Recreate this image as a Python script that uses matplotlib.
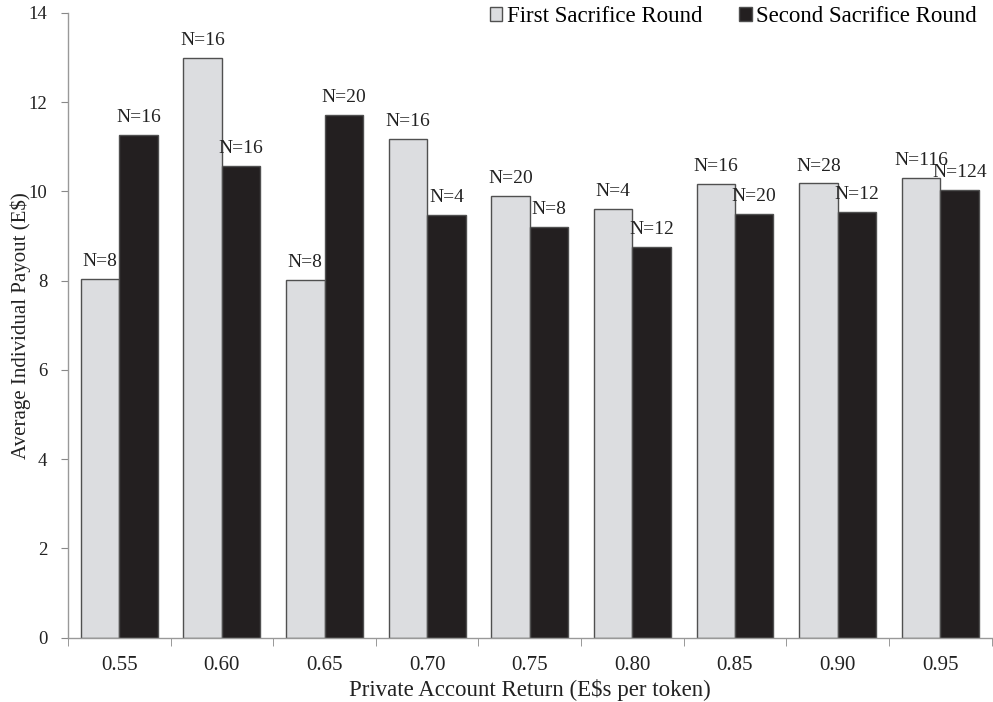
import matplotlib
matplotlib.use("Agg")
import matplotlib.pyplot as plt
import numpy as np
from matplotlib.patches import Patch

categories = ["0.55", "0.60", "0.65", "0.70", "0.75", "0.80", "0.85", "0.90", "0.95"]
first_round = [8.04, 13.0, 8.02, 11.17, 9.89, 9.61, 10.17, 10.18, 10.31]
second_round = [11.26, 10.58, 11.72, 9.48, 9.21, 8.75, 9.49, 9.55, 10.04]
first_n = [8, 16, 8, 16, 20, 4, 16, 28, 116]
second_n = [16, 16, 20, 4, 8, 12, 20, 12, 124]

plt.rcParams['font.family'] = ['Liberation Serif', 'DejaVu Serif']

fig = plt.figure(figsize=(9.93, 7.02), dpi=100)
ax = fig.add_axes([0.0685, 0.0916, 0.93, 0.8899])

x = np.arange(len(categories))
w = 0.375
light = '#dcdde0'
dark = '#231f20'
edge = '#505050'
txt = '#222222'

ax.bar(x - w / 2, first_round, w, color=light, edgecolor=edge, linewidth=1.0)
ax.bar(x + w / 2, second_round, w, color=dark, edgecolor=edge, linewidth=1.0)

for xi, v, n in zip(x - w / 2, first_round, first_n):
    ax.text(xi, v + 0.2, f"N={n}", ha='center', va='bottom', fontsize=14, color=txt)
for xi, v, n in zip(x + w / 2, second_round, second_n):
    ax.text(xi, v + 0.2, f"N={n}", ha='center', va='bottom', fontsize=14, color=txt)

ax.set_xlim(-0.5, len(categories) - 0.5)
ax.set_ylim(0, 14)
ax.set_yticks(np.arange(0, 15, 2))
ax.set_xticks(x)
ax.set_xticklabels(categories)
ax.set_xticks(np.arange(-0.5, len(categories)), minor=True)
ax.tick_params(axis='x', which='major', length=0, pad=13, labelsize=15, labelcolor=txt)
ax.tick_params(axis='x', which='minor', length=6, color='#888888', direction='out')
ax.tick_params(axis='y', length=5, color='#888888', labelsize=13.5, pad=10, labelcolor=txt)

for s in ['top', 'right']:
    ax.spines[s].set_visible(False)
for s in ['left', 'bottom']:
    ax.spines[s].set_color('#999999')
    ax.spines[s].set_linewidth(1.0)

ax.set_xlabel("Private Account Return (E$s per token)", fontsize=16.5, color=txt)
ax.xaxis.set_label_coords(0.5, (637.7 - 690) / 624.4)
ax.xaxis.label.set_va('center')
ax.set_ylabel("Average Individual Payout (E$)", fontsize=15, color=txt)
ax.yaxis.set_label_coords((21 - 68) / 923, 0.5)
ax.yaxis.label.set_va('center')

handles = [Patch(facecolor=light, edgecolor=edge, label='First Sacrifice Round'),
           Patch(facecolor=dark, edgecolor=edge, label='Second Sacrifice Round')]
fig.legend(handles=handles, loc='upper right', bbox_to_anchor=(977 / 993, 1 - 6 / 702), frameon=False,
           ncol=2, fontsize=16.5, handlelength=0.55, handleheight=0.55, handletextpad=0.2,
           columnspacing=1.6, borderaxespad=0.0, borderpad=0.0)

fig.savefig("out.png", dpi=100)
